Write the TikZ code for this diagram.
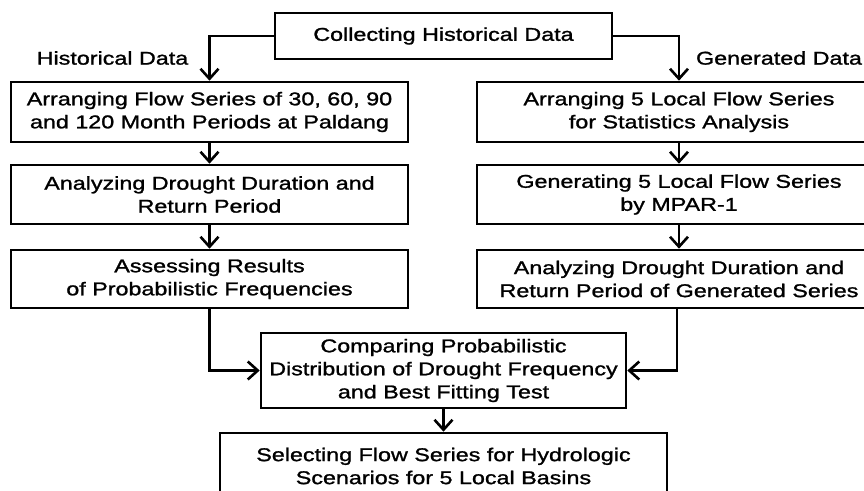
\documentclass[tikz,border=0pt]{standalone}
\usepackage{fontspec}
\setmainfont{Liberation Sans}[FakeStretch=1.26,FakeBold=1.3]
\usetikzlibrary{arrows.meta}
\begin{document}
\begin{tikzpicture}[x=1pt,y=-1pt,
  txt/.style={font=\fontsize{18.5}{23}\selectfont},
  box/.style={txt, draw, line width=2.6pt, align=center, inner sep=0pt},
  conn/.style={line width=2.6pt, line join=miter, -{Straight Barb[length=10pt,width=18pt]}}]
\useasboundingbox (0,0) rectangle (864,490);
\clip (0,0) rectangle (864,490);
% boxes
\node[box, minimum width=337pt, minimum height=46pt] (top) at (443.5,36) {Collecting Historical Data};
\node[box, minimum width=397pt, minimum height=60pt] (L1) at (209.5,112) {Arranging Flow Series of 30, 60, 90\\and 120 Month Periods at Paldang};
\node[box, minimum width=397pt, minimum height=59pt] (L2) at (209.5,194.5) {Analyzing Drought Duration and\\Return Period};
\node[box, minimum width=397pt, minimum height=58pt] (L3) at (209.5,279) {Assessing Results\\of Probabilistic Frequencies};
\node[box, minimum width=404pt, minimum height=60pt] (R1) at (679,112) {Arranging 5 Local Flow Series\\for Statistics Analysis};
\node[box, minimum width=404pt, minimum height=59pt] (R2) at (679,194.5) {Generating 5 Local Flow Series\\by MPAR-1};
\node[box, minimum width=404pt, minimum height=58pt] (R3) at (679,279) {Analyzing Drought Duration and\\Return Period of Generated Series};
\node[box, minimum width=365pt, minimum height=75pt] (cmp) at (443.5,370.5) {Comparing Probabilistic\\Distribution of Drought Frequency\\and Best Fitting Test};
\node[box, minimum width=447pt, minimum height=66pt] (sel) at (443.5,466) {Selecting Flow Series for Hydrologic\\Scenarios for 5 Local Basins};
% labels
\node[txt] (hl) at (112.5,58) {Historical Data};
\node[txt] (gl) at (779,58) {Generated Data};
% connectors
\draw[conn] (top.west) -| (L1.north);
\draw[conn] (top.east) -| (R1.north);
\draw[conn] (L1) -- (L2);
\draw[conn] (L2) -- (L3);
\draw[conn] (R1) -- (R2);
\draw[conn] (R2) -- (R3);
\draw[conn] (L3.south) |- (cmp.west);
\draw[conn] ([xshift=-2pt]R3.south) |- (cmp.east);
\draw[conn] (cmp) -- (sel);
\end{tikzpicture}
\end{document}
